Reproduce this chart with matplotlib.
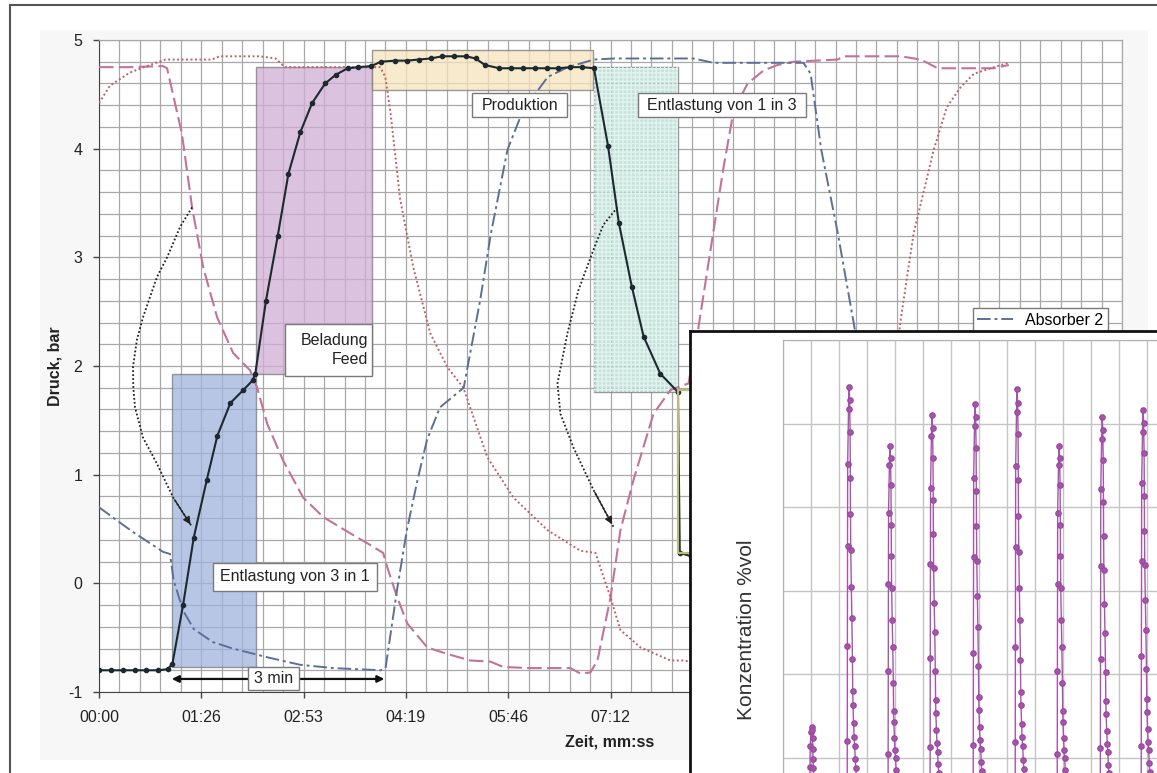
import matplotlib
matplotlib.use("Agg")
import matplotlib.pyplot as plt
from matplotlib.patches import Rectangle
from matplotlib.lines import Line2D
from matplotlib.ticker import MultipleLocator, FuncFormatter

plt.rcParams['font.family'] = ['Liberation Sans', 'DejaVu Sans']
plt.rcParams['axes.unicode_minus'] = False

W, H = 1157, 773

# --- Druckverlauf (Zeit in s, Druck in bar) ---
abs1_t = [0, 10, 20, 30, 40, 50, 58, 62, 71, 80, 91, 100, 111, 122, 130, 132, 141, 151, 160,
          170, 180, 191, 200, 210, 219, 230, 238, 250, 260, 270, 280, 290, 300, 310, 318, 326,
          338, 348, 358, 368, 378, 388, 398, 408, 418, 430, 439, 450, 460, 474, 489, 490.5,
          500, 520, 540, 600, 768]
abs1_p = [-0.80, -0.80, -0.80, -0.80, -0.80, -0.80, -0.79, -0.74, -0.20, 0.42, 0.95, 1.36, 1.66,
          1.78, 1.87, 1.93, 2.60, 3.20, 3.77, 4.15, 4.42, 4.60, 4.68, 4.74, 4.75, 4.76, 4.80,
          4.81, 4.81, 4.82, 4.83, 4.85, 4.85, 4.85, 4.83, 4.77, 4.74, 4.74, 4.74, 4.74, 4.74,
          4.74, 4.75, 4.75, 4.74, 4.02, 3.32, 2.73, 2.27, 1.93, 1.76, 0.28, 0.25, -0.60,
          -0.80, -0.80, -0.80]

abs2_t = [0, 15, 29, 43, 54, 60, 63, 71, 80, 96, 113, 142, 170, 198, 238, 242, 252, 260, 269,
          277, 288, 308, 322, 331, 345, 358, 379, 396, 418, 435, 502, 519, 595, 601, 610, 624,
          637, 650, 670, 700, 768]
abs2_p = [0.70, 0.58, 0.47, 0.37, 0.29, 0.27, 0.03, -0.25, -0.42, -0.54, -0.60, -0.68, -0.75,
          -0.78, -0.80, -0.78, -0.04, 0.49, 0.95, 1.32, 1.62, 1.80, 2.61, 3.22, 3.99, 4.35,
          4.66, 4.75, 4.82, 4.83, 4.83, 4.79, 4.79, 4.69, 3.99, 3.22, 2.42, 1.60, 1.00, 0.60,
          0.35]

abs3_t = [0, 26, 54, 57.5, 70, 78.6, 88, 99.7, 113.3, 127.6, 133.6, 142, 155.5, 172.4, 189.4,
          212.2, 226.5, 240, 243.4, 251.9, 260.4, 277.3, 294.2, 313.6, 330.5, 341.5, 364.3,
          398.1, 406.6, 415, 421, 432, 440.4, 451.4, 468.3, 482.7, 497.9, 505.5, 516.5, 527.5,
          536, 547.8, 561.3, 573.1, 586.6, 623.8, 628.9, 677.1, 694, 708.4, 755.7, 768.4]
abs3_p = [4.75, 4.75, 4.76, 4.74, 4.14, 3.46, 2.91, 2.45, 2.12, 1.96, 1.80, 1.47, 1.13, 0.79,
          0.61, 0.46, 0.37, 0.28, 0.15, -0.13, -0.37, -0.59, -0.65, -0.71, -0.72, -0.77, -0.78,
          -0.78, -0.83, -0.82, -0.71, -0.13, 0.49, 0.95, 1.56, 1.78, 1.84, 2.30, 3.07, 3.83,
          4.35, 4.60, 4.72, 4.77, 4.80, 4.82, 4.85, 4.85, 4.82, 4.74, 4.74, 4.77]

abs4_t = [0, 9.3, 26, 43, 56, 95, 102, 136, 149, 157, 237.5, 241.8, 246, 254.4, 265.4, 279.8,
          294.2, 307.7, 328, 350, 378.7, 406.6, 419.3, 432, 440.4, 457.3, 482.7, 492.8, 520,
          640, 650, 660, 670, 677, 688, 705, 716, 728, 739, 756, 768]
abs4_p = [4.42, 4.58, 4.70, 4.77, 4.82, 4.82, 4.85, 4.85, 4.83, 4.75, 4.75, 4.66, 4.35, 3.53,
          2.91, 2.30, 1.99, 1.80, 1.16, 0.79, 0.49, 0.30, 0.28, -0.13, -0.43, -0.59, -0.71,
          -0.71, -0.75, -0.75, -0.30, 0.80, 1.80, 2.42, 3.22, 3.99, 4.38, 4.57, 4.69, 4.75,
          4.79]

# Pfeile "Entlastung" (gepunktete Bögen)
arrow1_t = [78.6, 68.5, 57.5, 49, 37.2, 32, 28.7, 29, 30.4, 37.2, 49, 62.6, 78.6]
arrow1_p = [3.46, 3.28, 3.00, 2.82, 2.45, 2.24, 1.99, 1.80, 1.62, 1.34, 1.10, 0.79, 0.52]
arrow2_t = [437.9, 426, 417.6, 405, 395.6, 387.2, 389.7, 400.7, 417.6, 434.5]
arrow2_p = [3.46, 3.30, 3.07, 2.70, 2.30, 1.84, 1.56, 1.25, 0.86, 0.52]

# Phasen: (t0, t1, p0, p1)
phase_blue = (61.7, 132.7, -0.77, 1.93)
phase_purple = (132.7, 230.8, 1.93, 4.75)
phase_yellow = (230.8, 417.6, 4.54, 4.91)
phase_green = (418.0, 489.4, 1.76, 4.75)
phase_olive = (489.4, 560.0, 0.28, 1.78)

# --- Konzentration (Einfügung) ---
peak_x = [1.02, 2.36, 3.82, 5.32, 6.86, 8.36, 9.86, 11.40, 12.86]
peak_c = [6.85, 27.2, 23.67, 25.5, 26.17, 27.05, 23.67, 25.37, 25.81]
spike_dx = [-0.07, -0.065, -0.06, -0.055, -0.05, -0.02, 0.0, 0.02, 0.036, 0.045, 0.05, 0.06,
            0.08, 0.10, 0.12, 0.13, 0.14, 0.16, 0.18, 0.20, 0.22, 0.24, 0.26, 0.28, 0.30,
            0.33, 0.36]
spike_frac = [0.0, 0.22, 0.43, 0.65, 0.83, 0.95, 1.0, 0.97, 0.90, 0.80, 0.72, 0.64, 0.56, 0.49,
              0.40, 0.33, 0.30, 0.26, 0.23, 0.21, 0.18, 0.16, 0.14, 0.12, 0.10, 0.08, 0.06]


def mmss(v, pos):
    s = int(round(v))
    return f"{s // 60:02d}:{s % 60:02d}"


def label_box(ax, x0, x1, y0, y1, text, ha='center', tx=None):
    ax.add_patch(Rectangle((x0, y0), x1 - x0, y1 - y0, fc='white', ec='#7a7a7a', lw=1, zorder=6))
    if tx is None:
        tx = (x0 + x1) / 2
    ax.text(tx, (y0 + y1) / 2, text, ha=ha, va='center', fontsize=11.5, color='#222',
            multialignment=ha, linespacing=1.35, zorder=7)


def phase_box(ax, box, fc, alpha=0.75, zorder=1.5, ec='#7a7a7a', lw=1):
    t0, t1, p0, p1 = box
    ax.add_patch(Rectangle((t0, p0), t1 - t0, p1 - p0, fc=fc, ec=ec, lw=lw,
                           alpha=alpha, zorder=zorder))


fig = plt.figure(figsize=(W / 100, H / 100), dpi=100)

# Diagrammfläche und Rahmen
fig.add_artist(Rectangle((40 / W, 1 - 760 / H), (1148 - 40) / W, (760 - 30) / H,
                         transform=fig.transFigure, fc='#f7f7f7', ec='none', zorder=-2))
fig.add_artist(Line2D([10 / W, 10 / W], [0, 1 - 5 / H], transform=fig.transFigure,
                      color='#555555', lw=1.5))
fig.add_artist(Line2D([10 / W, 1], [1 - 5 / H, 1 - 5 / H], transform=fig.transFigure,
                      color='#555555', lw=1.5))

ax = fig.add_axes([99 / W, (773 - 692) / H, (1122 - 99) / W, (692 - 40) / H])
ax.set_facecolor('white')
ax.set_xlim(0, 864)
ax.set_ylim(-1, 5)
ax.xaxis.set_major_locator(MultipleLocator(86.4))
ax.xaxis.set_minor_locator(MultipleLocator(17.28))
ax.yaxis.set_major_locator(MultipleLocator(1))
ax.yaxis.set_minor_locator(MultipleLocator(0.2))
ax.xaxis.set_major_formatter(FuncFormatter(mmss))
ax.grid(which='both', color='#a8a8a8', lw=0.9)
ax.set_axisbelow(True)
ax.tick_params(which='major', length=4, width=1, color='#444', labelsize=11.5,
               labelcolor='#222')
ax.tick_params(axis='x', pad=9)
ax.tick_params(axis='y', pad=8)
ax.tick_params(which='minor', length=0)
for s in ['top', 'right']:
    ax.spines[s].set_color('#a8a8a8')
    ax.spines[s].set_linewidth(0.9)
for s in ['left', 'bottom']:
    ax.spines[s].set_color('#444')

# Phasen-Rechtecke
phase_box(ax, phase_blue, '#9fb4dc')
phase_box(ax, phase_purple, '#d0aed4')
phase_box(ax, phase_yellow, '#f6e4bc')
phase_box(ax, phase_green, '#b3dccf')
t0, t1, p0, p1 = phase_green
ax.add_patch(Rectangle((t0, p0), t1 - t0, p1 - p0, fc='none', ec='#e2f2ee', lw=0,
                       hatch='++++', zorder=1.6))
phase_box(ax, phase_olive, 'none', alpha=1, zorder=3.5, ec='#bcbc78', lw=1.6)

# Kurven
l3, = ax.plot(abs3_t, abs3_p, color='#c27398', lw=1.5, ls=(0, (7, 2.5)), zorder=3,
              label='Absorber 3')
l4, = ax.plot(abs4_t, abs4_p, color='#c0606e', lw=1.4, ls=(0, (1, 1.3)), zorder=3,
              label='Absorber 4')
l2, = ax.plot(abs2_t, abs2_p, color='#5d6f98', lw=1.4, ls=(0, (7, 2, 1.5, 2)), zorder=3,
              label='Absorber 2')
l1, = ax.plot(abs1_t, abs1_p, color='#1c2a30', lw=1.5, marker='o', ms=3.0, zorder=3.2,
              label='Absorber 1')

for xs, ys in [(arrow1_t, arrow1_p), (arrow2_t, arrow2_p)]:
    ax.plot(xs, ys, color='#222', lw=1.3, ls=(0, (1, 1.2)), zorder=4)
    ax.annotate('', xy=(xs[-1], ys[-1]), xytext=(xs[-2], ys[-2]),
                arrowprops=dict(arrowstyle='-|>', color='#222', lw=1, mutation_scale=11),
                zorder=4)

# Beschriftungen
label_box(ax, 157.2, 230.8, 1.91, 2.39, 'Beladung\nFeed', ha='right', tx=227.4)
label_box(ax, 315.3, 395.6, 4.29, 4.51, 'Produktion')
label_box(ax, 455.6, 596.8, 4.29, 4.51, 'Entlastung von 1 in 3')
label_box(ax, 96.4, 235.0, -0.07, 0.19, 'Entlastung von 3 in 1')

ax.annotate('', xy=(61.5, -0.88), xytext=(241, -0.88),
            arrowprops=dict(arrowstyle='<|-|>', color='#111', lw=1.6, mutation_scale=10,
                            shrinkA=0, shrinkB=0), zorder=5)
label_box(ax, 126, 169, -0.985, -0.77, '3 min')

ax.legend(handles=[l2, l1, l3], loc='upper left', bbox_to_anchor=(0.854, 0.589),
          fontsize=11.5, frameon=True, fancybox=False, edgecolor='#7a7a7a', framealpha=1,
          borderpad=0.3, handlelength=2.2, borderaxespad=0)

fig.text(55 / W, 1 - 366 / H, 'Druck, bar', rotation=90, ha='center', va='center',
         fontsize=11.5, fontweight='bold', color='#222')
fig.text(610 / W, 1 - 742 / H, 'Zeit, mm:ss', ha='center', va='center',
         fontsize=11.5, fontweight='bold', color='#222')

# Einfügung: Konzentration
panel = fig.add_axes([690 / W, -0.05, 0.45, (773 - 331) / H + 0.05])
panel.set_facecolor('white')
panel.set_xticks([])
panel.set_yticks([])
for s in panel.spines.values():
    s.set_color('#111')
    s.set_linewidth(2)

ins = fig.add_axes([783 / W, (773 - 841) / H, (1200 - 783) / W, (841 - 340) / H])
ins.set_facecolor('white')
ins.set_xlim(0, (1200 - 783) / 28)
ins.set_ylim(0, 30)
ins.xaxis.set_major_locator(MultipleLocator(1))
ins.yaxis.set_major_locator(MultipleLocator(5))
ins.grid(color='#c4c4c4', lw=1)
ins.set_axisbelow(True)
ins.tick_params(length=0, labelleft=False, labelbottom=False)
for s in ['right', 'bottom']:
    ins.spines[s].set_visible(False)
for s in ['left', 'top']:
    ins.spines[s].set_color('#b0b0b0')

for px, pc in zip(peak_x, peak_c):
    xs = [px + d for d in spike_dx]
    ys = [pc * f for f in spike_frac]
    ins.plot(xs, ys, color='#a555aa', lw=1, marker='o', ms=3.8, mec='#9a4aa0')

fig.text(747 / W, 1 - 630 / H, 'Konzentration %vol', rotation=90, ha='center', va='center',
         fontsize=15, color='#333')

fig.savefig('out.png', dpi=100)
